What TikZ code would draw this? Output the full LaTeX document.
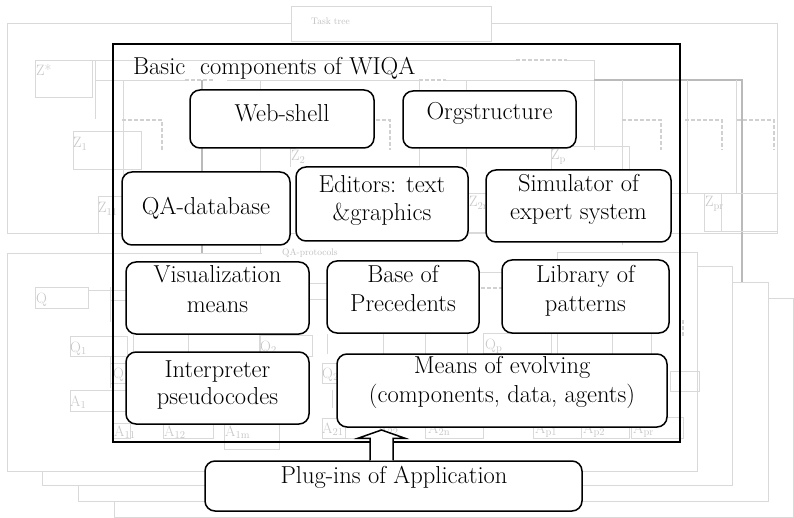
\documentclass[tikz,border=0pt]{standalone}
\usetikzlibrary{calc}
\begin{document}
\begin{tikzpicture}[x=1pt,y=-1pt,
 gl/.style={draw=black!15, line width=0.9pt},
 gd/.style={draw=black!27, line width=1.4pt},
 gdash/.style={draw=black!18, line width=1.3pt, dash pattern=on 4pt off 2pt},
 gbox/.style={draw=black!15, line width=0.9pt, fill=white},
 glab/.style={text=black!22, font=\fontsize{15}{17}\selectfont, inner sep=0pt, anchor=base west},
 glabs/.style={text=black!25, font=\fontsize{9.5}{11}\selectfont, inner sep=0pt, anchor=base west},
 cbox/.style={draw=black, line width=1.5pt, rounded corners=10pt, fill=white, inner sep=0pt},
 txt/.style={font=\fontsize{24.5}{29}\selectfont, inner sep=0pt, anchor=base},
]
\useasboundingbox (0,0) rectangle (794,518);
\fill[white] (0,0) rectangle (794,518);

% ---------- lower stacked panels (QA-protocols) ----------
\draw[gbox] (114,298) rectangle (793.4,517);
\draw[gbox] (78,282) rectangle (768,501);
\draw[gbox] (42,266) rectangle (732,485);
\fill[white] (7,253) rectangle (697,471);
\draw[gl] (262,253) -- (7,253) -- (7,471) -- (697,471) -- (697,252) -- (557,252) -- (557,262);
\node[glabs] (qaprot) at (282,256) {QA-protocols};

% ---------- top panel (task tree) ----------
\draw[gl] (7,23) rectangle (777,233);
\draw[gbox] (291,6) rectangle (491,41);
\node[glabs] (tasktree) at (311,25) {Task tree};
\draw[gl] (35,60) rectangle (92,97);
\node[glab] (zstar) at (36,76) {Z*};
\draw[gl] (92,60) -- (516,60);
\draw[gdash] (516,60) -- (567,60);
\draw[gl] (567,60) -- (594,60) -- (594,150);
\draw[gl] (95,60) -- (95,119);
\draw[gl] (95,80) -- (185,80);
\draw[gdash] (185,80) -- (213,80);
\draw[gl] (227,80) -- (263,80);
\draw[gl] (263,80) -- (419,80);
\draw[gdash] (419,80) -- (446,80);
\draw[gl] (446,80) -- (594,80);
\draw[gd] (594,80) -- (742,80) -- (742,282);
\draw[gl] (123,80) -- (123,233);
\draw[gd] (202,80) -- (202,253);
\draw[gl] (260,80) -- (260,253);
\draw[gl] (419,80) -- (419,167);
\draw[gl] (466,80) -- (466,167);
\draw[gl] (622,80) -- (622,245);
\draw[gl] (687,80) -- (687,193);
\draw[gl] (736,80) -- (736,193);
\draw[gdash] (122,120) -- (162,120) -- (162,150);
\draw[gdash] (376,120) -- (390,120) -- (390,150);
\draw[gdash] (622,120) -- (661,120) -- (661,150);
\draw[gdash] (685,120) -- (722,120) -- (722,150);
\draw[gdash] (737,120) -- (774,120) -- (774,150);
\draw[gl] (73,131) rectangle (141,169);
\node[glab] (z1) at (73,148) {Z\textsubscript{1}};
\draw[gl] (98,196) rectangle (122,233);
\node[glab] (z11) at (98,213) {Z\textsubscript{11}};
\draw[gl] (296,148) -- (290,148) -- (290,167);
\node[glab] (z2) at (291,161) {Z\textsubscript{2}};
\draw[gl] (551,146) rectangle (629,170);
\node[glab] (zp) at (551,160) {Z\textsubscript{p}};
\draw[gl] (468,193) rectangle (486,232);
\node[glab] (z2n) at (469,207) {Z\textsubscript{2n}};
\draw[gl] (671,193) -- (777,193);
\draw[gl] (704,193) rectangle (721,231);
\draw[gl] (721,193) rectangle (777,231);
\node[glab] (zpr) at (705,207) {Z\textsubscript{pr}};

% ---------- QA-protocol details ----------
\draw[gl] (35,287) rectangle (88,308);
\node[glab] (q) at (36,303) {Q};
\draw[gl] (88,290) -- (126,290);
\draw[gl] (110,300) -- (126,300);
\draw[gl] (110,287) -- (110,322);
\draw[gl] (309,283) -- (327,283);
\draw[gl] (309,299) -- (327,299);
\draw[gl] (479,272) -- (502,272);
\draw[gdash] (481,288) -- (502,288);
\draw[gl] (70,336) rectangle (127,356);
\node[glab] (q1) at (70,352) {Q\textsubscript{1}};
\draw[gl] (110,356) -- (110,388);
\draw[gl] (110,363) rectangle (127,383);
\node[glab] (q11) at (113,378) {Q\textsubscript{11}};
\draw[gl] (70,390) rectangle (127,411);
\node[glab] (a1) at (70,406) {A\textsubscript{1}};
\draw[gl] (113,423) rectangle (130,438);
\node[glab] (a11) at (114,436) {A\textsubscript{11}};
\draw[gl] (163,423) rectangle (213,438);
\node[glab] (a12) at (164,436) {A\textsubscript{12}};
\draw[gl] (224,423) rectangle (279,449);
\node[glab] (a1m) at (225,436) {A\textsubscript{1m}};
\draw[gl] (259,335) rectangle (312,356);
\node[glab] (q2) at (260,351) {Q\textsubscript{2}};
\draw[gl] (133,335) -- (133,352);
\draw[gl] (188,335) -- (188,352);
\draw[gl] (260,335) -- (260,352);
\draw[gl] (327,334) -- (327,354);
\draw[gl] (383,334) -- (383,354);
\draw[gl] (425,334) -- (425,354);
\draw[gl] (467,334) -- (467,354);
\draw[gl] (557,334) -- (557,354);
\draw[gl] (612,334) -- (612,354);
\draw[gl] (651,334) -- (651,354);
\draw[gl] (322,363) rectangle (337,383);
\node[glab] (q21) at (322,378) {Q\textsubscript{21}};
\draw[gl] (332,390) -- (332,408);
\draw[gl] (322,418) rectangle (345,438);
\node[glab] (a21) at (322,433) {A\textsubscript{21}};
\draw[gl] (345,418) rectangle (380,438);
\node[glab] (a22) at (377,433) {A\textsubscript{22}};
\draw[gl] (425,418) rectangle (483,438);
\node[glab] (a2n) at (428,433) {A\textsubscript{2n}};
\draw[gl] (483,333) rectangle (551,353);
\node[glab] (qp) at (485,349) {Q\textsubscript{p}};
\draw[gl] (533,417) rectangle (581,438);
\node[glab] (ap1) at (535,433) {A\textsubscript{p1}};
\draw[gl] (581,417) rectangle (629,438);
\node[glab] (ap2) at (583,433) {A\textsubscript{p2}};
\draw[gl] (631,417) rectangle (683,438);
\node[glab] (apr) at (633,433) {A\textsubscript{pr}};
\draw[gl] (670,371) rectangle (699,391);
\draw[gdash] (683,320) -- (683,336);

% ---------- main frame ----------
\draw[line width=1.5pt] (113,44) rectangle (680,442);
\node[txt, anchor=base west] (title) at (133,75) {Basic\ \ components of WIQA};

% ---------- components ----------
\node[cbox, minimum width=184pt, minimum height=58pt] (web) at (282,119) {};
\node[txt] (webt) at (282,122) {Web-shell};
\node[cbox, minimum width=173pt, minimum height=57pt] (org) at (489.5,119.5) {};
\node[txt] (orgt) at (489.5,120) {Orgstructure};
\node[cbox, minimum width=168pt, minimum height=73pt] (qadb) at (206,208.5) {};
\node[txt] (qadbt) at (206,215) {QA-database};
\node[cbox, minimum width=172pt, minimum height=74pt] (edit) at (382,204) {};
\node[txt] (editt1) at (382,193) {Editors: text};
\node[txt] (editt2) at (382,221) {\&graphics};
\node[cbox, minimum width=185pt, minimum height=72pt] (sim) at (578.5,206) {};
\node[txt] (simt1) at (578.5,192) {Simulator of};
\node[txt] (simt2) at (578.5,220) {expert system};
\node[cbox, minimum width=183pt, minimum height=72pt] (vis) at (217.5,298) {};
\node[txt] (vist1) at (217.5,283) {Visualization};
\node[txt] (vist2) at (217.5,312) {means};
\node[cbox, minimum width=152pt, minimum height=72pt] (prec) at (403,297) {};
\node[txt] (prect1) at (403,283) {Base of};
\node[txt] (prect2) at (403,311) {Precedents};
\node[cbox, minimum width=167pt, minimum height=73pt] (lib) at (585.5,296.5) {};
\node[txt] (libt1) at (585.5,283) {Library of};
\node[txt] (libt2) at (585.5,311) {patterns};
\node[cbox, minimum width=183pt, minimum height=72pt] (interp) at (217.5,388) {};
\node[txt] (interpt1) at (217.5,377) {Interpreter};
\node[txt] (interpt2) at (217.5,404) {pseudocodes};
\node[cbox, minimum width=330pt, minimum height=73pt] (means) at (502,390.5) {};
\node[txt] (meanst1) at (502,373) {Means of evolving};
\node[txt] (meanst2) at (502,402) {(components, data, agents)};
\node[cbox, minimum width=377pt, minimum height=50pt] (plug) at (393.5,486) {};
\node[txt] (plugt) at (394,483) {Plug-ins of Application};

% ---------- block arrow ----------
\coordinate (ab) at (plug.north -| 381.5,0);
\coordinate (at) at (381.5,430);
\draw[line width=1.5pt, fill=white, line join=miter]
  ($(ab)+(-11.5,0)$) -- ($(ab)+(-11.5,-22)$) -- ($(ab)+(-23.5,-22)$) -- (at)
  -- ($(ab)+(23.5,-22)$) -- ($(ab)+(11.5,-22)$) -- ($(ab)+(11.5,0)$);
\end{tikzpicture}
\end{document}
